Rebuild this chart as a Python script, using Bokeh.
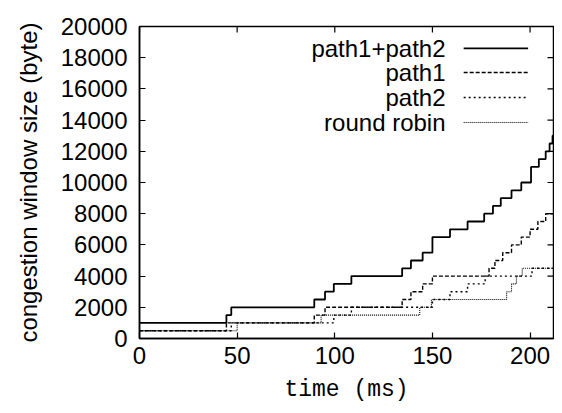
from bokeh.plotting import figure
from bokeh.models import Range1d, Label, Arrow, FixedTicker, BasicTickFormatter
from bokeh.embed import file_html
from bokeh.resources import INLINE

# ---- data (time in ms, congestion window in bytes), step functions ----
sum_t = [0, 44.5, 47, 89.5, 95, 99.5, 108.5, 134.5, 139, 145, 150, 159, 168, 176.5,
         181, 185, 190.5, 195.5, 200.5, 204.5, 208, 210, 211.5, 212]
sum_w = [1000, 1500, 2000, 2500, 3000, 3500, 4000, 4500, 5000, 5500, 6500, 7000, 7500, 8000,
         8500, 9000, 9500, 10000, 11000, 11500, 12000, 12500, 13000, 13000]

p1_t = [0, 44.5, 89.5, 95, 134.5, 139, 145, 150, 179, 182, 186, 190.5, 195.5, 200, 204, 208, 212]
p1_w = [500, 1000, 1500, 2000, 2500, 3000, 3500, 4000, 4500, 5000, 5500, 6000, 6500, 7000, 7500, 8000, 8000]

p2_t = [0, 47, 99.5, 108.5, 150, 159, 168, 177, 201, 212]
p2_w = [500, 1000, 1500, 2000, 2500, 3000, 3500, 4000, 4500, 4500]

rr_t = [0, 50, 93, 143.5, 149.5, 188, 190.5, 193, 196, 212]
rr_w = [500, 1000, 1500, 2000, 2500, 3000, 3500, 4000, 4500, 4500]

x_ticks = [0, 50, 100, 150, 200]
y_ticks = [0, 2000, 4000, 6000, 8000, 10000, 12000, 14000, 16000, 18000, 20000]

legend_labels = ["path1+path2", "path1", "path2", "round robin"]

X_MAX, Y_MAX = 212, 20000
SANS = "Liberation Sans"
MONO = "Liberation Mono"
FS = "24px"

p = figure(width=554, height=405, x_range=Range1d(0, X_MAX), y_range=Range1d(0, Y_MAX),
           output_backend="svg", toolbar_location=None,
           min_border_left=139, min_border_right=1, min_border_top=26, min_border_bottom=67)
p.background_fill_color = "white"
p.border_fill_color = "white"
p.outline_line_color = "black"
p.outline_line_width = 1.5
p.grid.visible = False

for ax in p.xaxis + p.yaxis:
    ax.major_tick_in = 6
    ax.major_tick_out = 0
    ax.minor_tick_line_color = None
    ax.axis_line_color = "black"
    ax.axis_line_width = 1.5
    ax.major_tick_line_width = 1.2
    ax.major_label_text_font = SANS
    ax.major_label_text_font_size = FS
    ax.major_label_text_color = "black"
    ax.axis_label_text_font_style = "normal"
    ax.axis_label_text_color = "black"

p.xaxis.ticker = FixedTicker(ticks=x_ticks)
p.yaxis.ticker = FixedTicker(ticks=y_ticks)
p.yaxis.formatter = BasicTickFormatter(use_scientific=False)
p.xaxis.major_label_standoff = 8
p.yaxis.major_label_standoff = 12

p.xaxis.axis_label = "time (ms)"
p.xaxis.axis_label_text_font = MONO
p.xaxis.axis_label_text_font_size = "23px"
p.xaxis.axis_label_standoff = 10

p.yaxis.axis_label = "congestion window size (byte)"
p.yaxis.axis_label_text_font = SANS
p.yaxis.axis_label_text_font_size = FS
p.yaxis.axis_label_standoff = 16

# mirror ticks on top and right edges (inward, ~6px)
tick_dx = X_MAX * 6 / 414
tick_dy = Y_MAX * 6 / 312
p.segment(x0=x_ticks, y0=[Y_MAX] * len(x_ticks), x1=x_ticks, y1=[Y_MAX - tick_dy] * len(x_ticks),
          line_color="black", line_width=1.2)
p.segment(x0=[X_MAX] * len(y_ticks), y0=y_ticks, x1=[X_MAX - tick_dx] * len(y_ticks), y1=y_ticks,
          line_color="black", line_width=1.2)

styles = [
    (sum_t, sum_w, None, 1.8),
    (p1_t, p1_w, "4 2", 1.4),
    (p2_t, p2_w, "2 3", 1.4),
    (rr_t, rr_w, "1 1", 1.1),
]
for t, w, dash, lw in styles:
    kw = dict(line_color="black", line_width=lw)
    if dash:
        kw["line_dash"] = dash
    p.step(t, w, mode="after", **kw)

# legend (gnuplot style: text right-aligned, sample to the right)
leg_text_x = 156.7
leg_x0, leg_x1 = 166.0, 199.0
leg_y = [18600, 17050, 15450, 13850]
for (t, w, dash, lw), lab, yy in zip(styles, legend_labels, leg_y):
    p.add_layout(Label(x=leg_text_x, y=yy, text=lab, text_align="right", text_baseline="middle",
                       text_font=SANS, text_font_size=FS, text_color="black"))
    kw = dict(line_color="black", line_width=lw)
    if dash:
        kw["line_dash"] = dash
    p.add_layout(Arrow(x_start=leg_x0, y_start=yy, x_end=leg_x1, y_end=yy, end=None, **kw))

open("out.html", "w").write(file_html(p, INLINE))
